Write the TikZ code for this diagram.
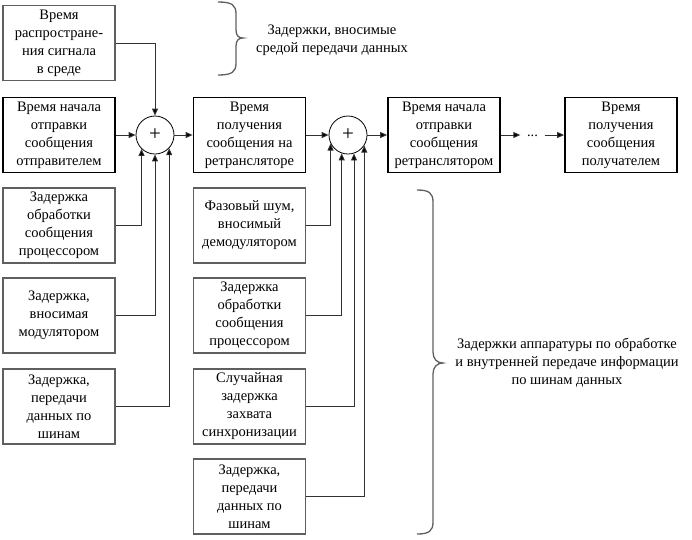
\documentclass[tikz,border=0pt]{standalone}
\usepackage{fontspec}
\setmainfont{Liberation Serif}
\usetikzlibrary{arrows.meta,calc}
\definecolor{boxgray}{RGB}{95,95,95}
\definecolor{linegray}{RGB}{50,50,50}
\tikzset{
  txt/.style={font=\fontsize{14.5}{18}\selectfont, align=center},
  mainbox/.style={txt, draw=black, line width=1.8pt, minimum width=112pt, minimum height=75pt, inner sep=1pt},
  subbox/.style={txt, draw=boxgray, line width=1.3pt, minimum width=112pt, minimum height=75pt, inner sep=1pt},
  sumnode/.style={circle, draw=black, line width=0.8pt, minimum size=38pt, inner sep=0pt, font=\fontsize{21}{21}\selectfont},
  conn/.style={draw=linegray, line width=0.9pt, -{Triangle[length=7pt,width=6pt,fill=black]}},
  brace/.style={draw=boxgray, line width=1.3pt}
}
\begin{document}
\begin{tikzpicture}[x=1pt,y=-1pt]
\path[use as bounding box] (0,0) rectangle (692,539);

\node[subbox] (T) at (59,43) {Время\\распростране-\\ния сигнала\\в среде};

\node[mainbox] (A) at (59,135) {Время начала\\отправки\\сообщения\\отправителем};
\node[sumnode] (c1) at (155,135) {\raisebox{1pt}{+}};
\node[mainbox] (B) at (249.5,135) {Время\\получения\\сообщения на\\ретрансляторе};
\node[sumnode] (c2) at (348,135) {\raisebox{1pt}{+}};
\node[mainbox] (C) at (444,135) {Время начала\\отправки\\сообщения\\ретранслятором};
\node[txt, inner sep=0pt, minimum width=24pt, minimum height=8pt] (dots) at (532.5,135) {\raisebox{-3pt}{...}};
\node[mainbox] (D) at (621,135) {Время\\получения\\сообщения\\получателем};

\node[subbox] (L1) at (59,225.5) {Задержка\\обработки\\сообщения\\процессором};
\node[subbox] (L2) at (59,315.5) {Задержка,\\вносимая\\модулятором};
\node[subbox] (L3) at (59,406.5) {Задержка,\\передачи\\данных по\\шинам};

\node[subbox] (R1) at (249.5,225.5) {Фазовый шум,\\вносимый\\демодулятором};
\node[subbox] (R2) at (249.5,315.5) {Задержка\\обработки\\сообщения\\процессором};
\node[subbox] (R3) at (249.5,406.5) {Случайная\\задержка\\захвата\\синхронизации};
\node[subbox] (R4) at (249.5,496.5) {Задержка,\\передачи\\данных по\\шинам};

% main chain
\draw[conn] (A) -- (c1);
\draw[conn] (c1) -- (B);
\draw[conn] (B) -- (c2);
\draw[conn] (c2) -- (C);
\draw[conn] (C) -- (dots);
\draw[conn] (dots) -- (D);

% inputs to c1
\draw[conn] (T.east) -| (c1.north);
\draw[conn] (L1.east) -| (c1.226.8);
\draw[conn] (L2.east) -| (c1.south);
\draw[conn] (L3.east) -| (c1.317.5);

% inputs to c2
\draw[conn] (R1.east) -| (c2.206.5);
\draw[conn] (R2.east) -| (c2.251.6);
\draw[conn] (R3.east) -| (c2.288.4);
\draw[conn] (R4.east) -| (c2.327.4);

% top brace
\draw[brace] (218,2) .. controls (232,2) and (236,5) .. (236,14) -- (236,30)
  .. controls (236,36) and (239,38) .. (243,38)
  .. controls (239,38) and (236,40) .. (236,46) -- (236,63)
  .. controls (236,72) and (232,75) .. (218,75);
\node[txt] (t1) at (332,40) {Задержки, вносимые\\средой передачи данных};

% right brace
\draw[brace] (417,190) .. controls (429,190) and (433,193) .. (433,202) -- (433,352)
  .. controls (433,359) and (437,363) .. (443,363)
  .. controls (437,363) and (433,367) .. (433,374) -- (433,522)
  .. controls (433,531) and (429,534) .. (417,534);
\node[txt] (t2) at (567,363) {Задержки аппаратуры по обработке\\и внутренней передаче информации\\по шинам данных};
\end{tikzpicture}
\end{document}
